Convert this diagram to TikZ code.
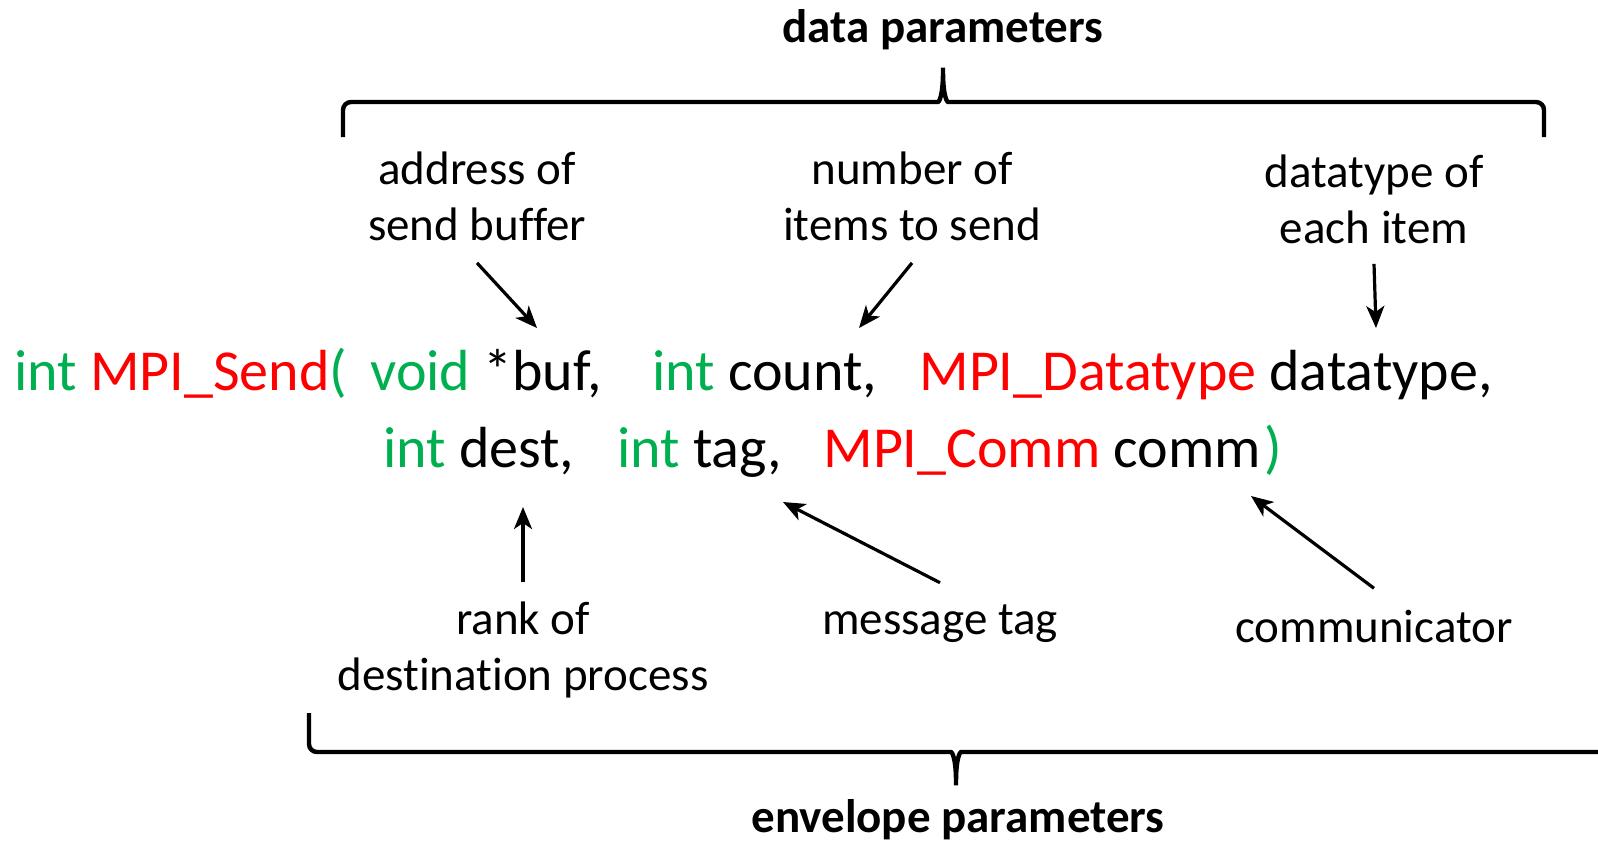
\documentclass[tikz,border=0pt]{standalone}
\usepackage{fontspec}
\setmainfont{Carlito}[Ligatures=NoCommon]
\usepackage{xcolor}
\usetikzlibrary{arrows.meta,positioning,calc}
\definecolor{mpigreen}{RGB}{0,176,80}
\definecolor{mpired}{RGB}{255,0,0}

\begin{document}
\begin{tikzpicture}[
    x=0.5pt, y=-0.5pt,
    code/.style={anchor=base west, inner sep=0pt, font=\fontsize{29}{35}\selectfont},
    note/.style={align=center, inner sep=2pt, font=\fontsize{23.5}{28}\selectfont},
    group/.style={inner sep=2pt, font=\bfseries\fontsize{23.5}{28}\selectfont},
    pointer/.style={-{Stealth[length=11pt, width=9pt, inset=3pt]}, line width=1.6pt},
    brace/.style={line width=2.2pt, rounded corners=4pt}
]
    \useasboundingbox (0,0) rectangle (1598,843);

    % the call, two lines
    \node[code] (fname) at (14,390) {\color{mpigreen}int \color{mpired}MPI\_Send\color{mpigreen}(};
    \node[code] (argbuf) at (370,390) {\color{mpigreen}void \color{black}*buf,};
    \node[code] (argcount) at (652,390) {\color{mpigreen}int \color{black}count,};
    \node[code] (argtype) at (919,390) {\color{mpired}MPI\_Datatype \color{black}datatype,};
    \node[code] (argdest) at (383,467) {\color{mpigreen}int \color{black}dest,};
    \node[code] (argtag) at (617,467) {\color{mpigreen}int \color{black}tag,};
    \node[code] (argcomm) at (823,467) {\color{mpired}MPI\_Comm \color{black}comm};
    \node[code] (closep) at (1264,467) {\color{mpigreen})};

    % labels
    \node[note] (addr) at (477,196) {address of\\send buffer};
    \node[note] (nitems) at (912,196) {number of\\items to send};
    \node[note] (dtype) at (1374,199) {datatype of\\each item};
    \node[note] (rank) at (523,650) {rank of\\destination process};
    \node[note] (msgtag) at (940,624) {message tag};
    \node[note] (commlbl) at (1374,626) {communicator};

    \node[group] (datagrp) at (943,30) {data parameters};
    \node[group] (envgrp) at (958,820) {envelope parameters};

    % arrow tips
    \coordinate (buftip) at (537,328);
    \coordinate (counttip) at (859,328);
    \coordinate (typetip) at (1376,328);
    \coordinate (desttip) at (523,507);
    \coordinate (tagtip) at (783,502);
    \coordinate (commtip) at (1251,496);

    \draw[pointer] ([yshift=-9pt]addr.south) -- (buftip);
    \draw[pointer] ([yshift=-9pt]nitems.south) -- (counttip);
    \draw[pointer] ([yshift=-8pt]dtype.south) -- (typetip);
    \draw[pointer] ([yshift=8pt]rank.north) -- (desttip);
    \draw[pointer] ([yshift=9pt]msgtag.north) -- (tagtip);
    \draw[pointer] ([yshift=8.5pt]commlbl.north) -- (commtip);

    % braces
    \draw[brace] (343,137) -- (343,102) -- (930,102)
        .. controls (939,102) and (943,96) .. (943,63)
        .. controls (943,96) and (947,102) .. (956,102) -- (1544,102) -- (1544,137);
    \draw[brace] (309,713) -- (309,752) -- (943,752)
        .. controls (952,752) and (956,758) .. (956,790)
        .. controls (956,758) and (960,752) .. (969,752) -- (1610,752);
\end{tikzpicture}
\end{document}
